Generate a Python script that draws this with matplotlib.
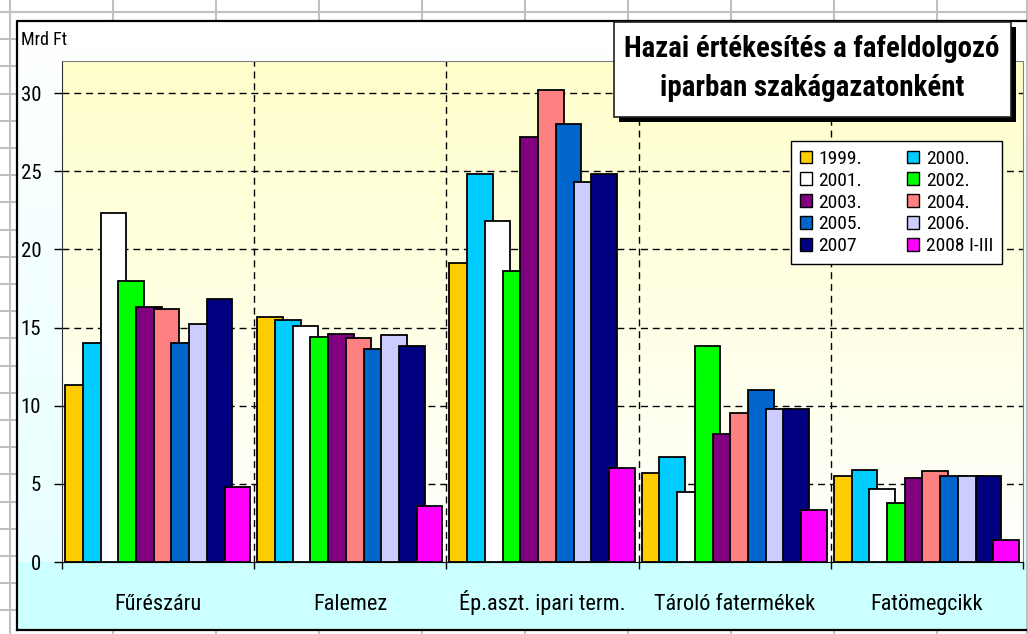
import matplotlib
matplotlib.use("Agg")
import matplotlib.pyplot as plt
import matplotlib.transforms as mtransforms
from matplotlib.patches import Rectangle, Patch
import numpy as np

plt.rcParams['font.family'] = ['Roboto Condensed', 'Liberation Sans', 'DejaVu Sans']

# Adatok (Mrd Ft)
categories = ['Fűrészáru', 'Falemez', 'Ép.aszt. ipari term.', 'Tároló fatermékek', 'Fatömegcikk']
years = ['1999.', '2000.', '2001.', '2002.', '2003.', '2004.', '2005.', '2006.', '2007', '2008 I-III']
colors = ['#FFCC00', '#00CCFF', '#FFFFFF', '#00FF00', '#800080',
          '#FF8080', '#0066CC', '#CCCCFF', '#000080', '#FF00FF']
values = {
    '1999.':      [11.3, 15.7, 19.1, 5.7, 5.5],
    '2000.':      [14.0, 15.5, 24.8, 6.7, 5.9],
    '2001.':      [22.3, 15.1, 21.8, 4.5, 4.7],
    '2002.':      [18.0, 14.4, 18.6, 13.8, 3.8],
    '2003.':      [16.3, 14.6, 27.2, 8.2, 5.4],
    '2004.':      [16.2, 14.3, 30.2, 9.5, 5.8],
    '2005.':      [14.0, 13.6, 28.0, 11.0, 5.5],
    '2006.':      [15.2, 14.5, 24.3, 9.8, 5.5],
    '2007':       [16.8, 13.8, 24.8, 9.8, 5.5],
    '2008 I-III': [4.8, 3.6, 6.0, 3.3, 1.4],
}
y_ticks = [0, 5, 10, 15, 20, 25, 30]

W, H = 1028, 634
fig = plt.figure(figsize=(W / 100, H / 100), dpi=100)
fig.patch.set_facecolor('white')


def px(x0, y0, x1, y1):
    return [x0 / W, 1 - y1 / H, (x1 - x0) / W, (y1 - y0) / H]


# hatter: tablazat racsa + diagram terulet
bg = fig.add_axes([0, 0, 1, 1], zorder=0)
bg.set_xlim(0, W)
bg.set_ylim(H, 0)
bg.axis('off')
grid_c = '#C0C0C0'
bg.axvline(10, color=grid_c, lw=1.5)
bg.axvline(1027, color=grid_c, lw=1.5)
for yy in np.arange(12, H, 27.2):
    bg.plot([0, 17], [yy, yy], color=grid_c, lw=1.5)
bg.plot([0, W], [12, 12], color=grid_c, lw=1.5)
for xx in np.arange(113, W, 103):
    bg.plot([xx, xx], [0, 21], color=grid_c, lw=1.5)
    bg.plot([xx, xx], [630, H], color=grid_c, lw=1.5)

grad = np.linspace(0, 1, 200)[:, None]
chart_cmap = matplotlib.colors.LinearSegmentedColormap.from_list('c', ['#FFFFFF', '#E8FFFF'])
bg.imshow(grad, cmap=chart_cmap, extent=[17, 1026, 562, 21], aspect='auto', zorder=1)
bg.add_patch(Rectangle((17, 562), 1009, 68, facecolor='#CCFFFF', edgecolor='none', zorder=2))
bg.plot([17, 17, 1026], [630, 21, 21], color='black', lw=1.6, zorder=3)
bg.plot([17, 1026], [630, 630], color='black', lw=1.6, zorder=3)

# fo diagram
ax = fig.add_axes(px(62, 61, 1023, 562), zorder=1)
ax.set_facecolor('none')
ax.set_xlim(0, 5)
ax.set_ylim(0, 32.05)
pa_cmap = matplotlib.colors.LinearSegmentedColormap.from_list('p', ['#FFFFFF', '#FFFFCC'])
ax.imshow(grad[::-1], cmap=pa_cmap, extent=[0, 5, 0, 32.05], aspect='auto', zorder=0)

x = np.arange(len(categories))
step, width = 0.0922, 0.133
handles = []
for k, yr in enumerate(years):
    ax.bar(x + 0.016 + step * k, values[yr], width=width, align='edge',
           color=colors[k], edgecolor='black', linewidth=1.3, zorder=3)
    handles.append(Patch(facecolor=colors[k], edgecolor='black', linewidth=1.0, label=yr))

for yv in y_ticks[1:]:
    ax.axhline(yv, color='black', lw=1.0, ls=(0, (5, 3.5)), zorder=1)
for xv in range(1, 5):
    ax.axvline(xv, color='black', lw=1.0, ls=(0, (5, 3.5)), zorder=1)

ax.set_yticks(y_ticks)
ax.set_yticklabels([str(v) for v in y_ticks], fontsize=15)
ax.set_xticks(range(0, 6))
ax.set_xticklabels([])
ax.tick_params(axis='y', direction='out', length=6, width=1, pad=9)
ax.tick_params(axis='x', direction='out', length=5, width=1)
for s in ['top', 'right']:
    ax.spines[s].set_color('#808080')
ax.spines['left'].set_color('#303030')
ax.spines['bottom'].set_color('black')

lbl_trans = mtransforms.blended_transform_factory(ax.transData, ax.transAxes)
for i, c in enumerate(categories):
    ax.text(i + 0.5, -48 / 501, c, transform=lbl_trans, ha='center', va='baseline', fontsize=16)

order = handles[0::2] + handles[1::2]
leg = ax.legend(handles=order, ncol=2, loc='upper left',
                bbox_to_anchor=(791 / W, 1 - 141 / H), bbox_transform=fig.transFigure,
                borderaxespad=0, fontsize=14, handlelength=0.62, handleheight=0.62,
                handletextpad=0.35, columnspacing=2.3, labelspacing=0.2,
                fancybox=False, framealpha=1, edgecolor='black', borderpad=0.45)
leg.get_frame().set_linewidth(1.0)
leg.set_zorder(5)

# felso reteg: cim doboz, mertekegyseg
top = fig.add_axes([0, 0, 1, 1], zorder=3)
top.set_xlim(0, W)
top.set_ylim(H, 0)
top.axis('off')
top.add_patch(Rectangle((619, 27), 397, 95, facecolor='black', edgecolor='none'))
top.add_patch(Rectangle((614, 22), 397, 95, facecolor='white', edgecolor='#202020', lw=1.2))
top.text(812, 57, 'Hazai értékesítés a fafeldolgozó', ha='center', va='baseline',
         fontsize=20.8, fontweight='bold')
top.text(812, 96, 'iparban szakágazatonként', ha='center', va='baseline',
         fontsize=20.8, fontweight='bold')
top.text(21, 45, 'Mrd Ft', ha='left', va='baseline', fontsize=13)

fig.savefig('out.png', dpi=100)
